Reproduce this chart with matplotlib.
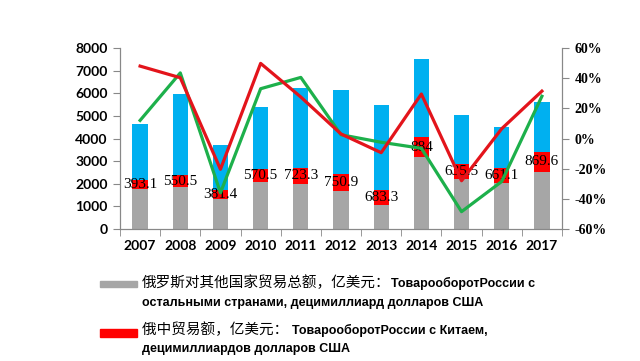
import matplotlib
matplotlib.use("Agg")
from matplotlib import pyplot as plt
from matplotlib.patches import Rectangle
import numpy as np

years = ['2007', '2008', '2009', '2010', '2011', '2012', '2013', '2014', '2015', '2016', '2017']
# trade with other countries (gray), with China (red), remainder (blue)
other_trade = [1760, 1840, 1330, 2060, 1990, 1700, 1040, 3170, 2230, 2040, 2530]
china_trade = [393.1, 550.5, 381.4, 570.5, 723.3, 750.9, 683.3, 884, 635.5, 661.1, 869.6]
blue_part = [2490, 3570, 2000, 2750, 3500, 3690, 3770, 3470, 2170, 1800, 2230]
# growth rates, %
green_growth = [12, 43.5, -36, 33, 40.5, 2.5, -2.5, -6.5, -48.5, -28.5, 28]
red_growth = [48, 40.3, -20.4, 49.8, 27.5, 3, -9.4, 29.5, -28, 6.5, 31.4]

fig = plt.figure(figsize=(6.4, 3.61), dpi=100)
ax = fig.add_axes([120/640, 1 - 229/361, 442/640, 181/361])
ax2 = ax.twinx()

x = np.arange(len(years))
w = 0.38
other = np.array(other_trade)
china = np.array(china_trade)
ax.bar(x, other, w, color='#A6A6A6', zorder=2)
ax.bar(x, china, w, bottom=other, color='#FF0000', zorder=2)
ax.bar(x, blue_part, w, bottom=other + china, color='#00B0F0', zorder=2)

for i in range(len(years)):
    ax.text(x[i], other[i] + china[i] / 2, '%g' % china_trade[i], ha='center', va='center',
            family='Liberation Serif', fontsize=11, zorder=5)

ax2.plot(x, green_growth, color='#1DB04B', lw=2.3, zorder=3)
ax2.plot(x, red_growth, color='#E3141B', lw=2.3, zorder=4)
ax2.set_zorder(ax.get_zorder() + 1)
ax2.patch.set_visible(False)

ax.set_xlim(-0.5, len(years) - 0.5)
ax.set_ylim(0, 8000)
ax.set_yticks(range(0, 8001, 1000))
ax2.set_ylim(-60, 60)
ax2.set_yticks(range(-60, 61, 20))
ax2.set_yticklabels(['%d%%' % v for v in range(-60, 61, 20)])

ax.set_xticks(x)
ax.set_xticklabels(years)
ax.set_xticks(np.arange(-0.5, len(years), 1), minor=True)
ax.tick_params(axis='x', which='major', length=0, pad=8)
ax.tick_params(axis='x', which='minor', length=5, color='#888888')
ax.tick_params(axis='y', length=5, color='#888888', pad=4)
ax2.tick_params(axis='y', length=5, color='#888888', pad=4)

for lab in ax.get_xticklabels() + ax.get_yticklabels():
    lab.set_family('Lato')
    lab.set_fontweight('bold')
    lab.set_fontsize(10)
for lab in ax2.get_yticklabels():
    lab.set_family('Liberation Serif')
    lab.set_fontweight('bold')
    lab.set_fontsize(10)

for a in (ax, ax2):
    a.spines['top'].set_visible(False)
    for s in ('left', 'right', 'bottom'):
        a.spines[s].set_color('#888888')

# legend drawn by hand: chinese part regular, russian part bold
cjk = ['Noto Sans CJK SC', 'DejaVu Sans']
entries = [
    ('#A6A6A6', 281, 287, '俄罗斯对其他国家贸易总额，亿美元：', 'ТоварооборотРоссии с',
     'остальными странами, децимиллиард долларов США', 283, 303),
    ('#FF0000', 329, 337, '俄中贸易额，亿美元： ', 'ТоварооборотРоссии с Китаем,',
     'децимиллиардов долларов США', 330, 349),
]
for color, y0, y1, zh, ru1, ru2, ty1, ty2 in entries:
    fig.patches.append(Rectangle((100/640, 1 - y1/361), 37/640, (y1 - y0)/361,
                                 transform=fig.transFigure, color=color))
    t = fig.text(142/640, 1 - ty1/361, zh, family=cjk, fontsize=10.5, va='center')
    ax.annotate(ru1, xy=(1, 0.5), xycoords=t, va='center', ha='left',
                family='Liberation Sans', fontweight='bold', fontsize=9,
                annotation_clip=False)
    fig.text(142/640, 1 - ty2/361, ru2, family='Liberation Sans', fontweight='bold',
             fontsize=9, va='center')

fig.savefig('out.png', dpi=100)
